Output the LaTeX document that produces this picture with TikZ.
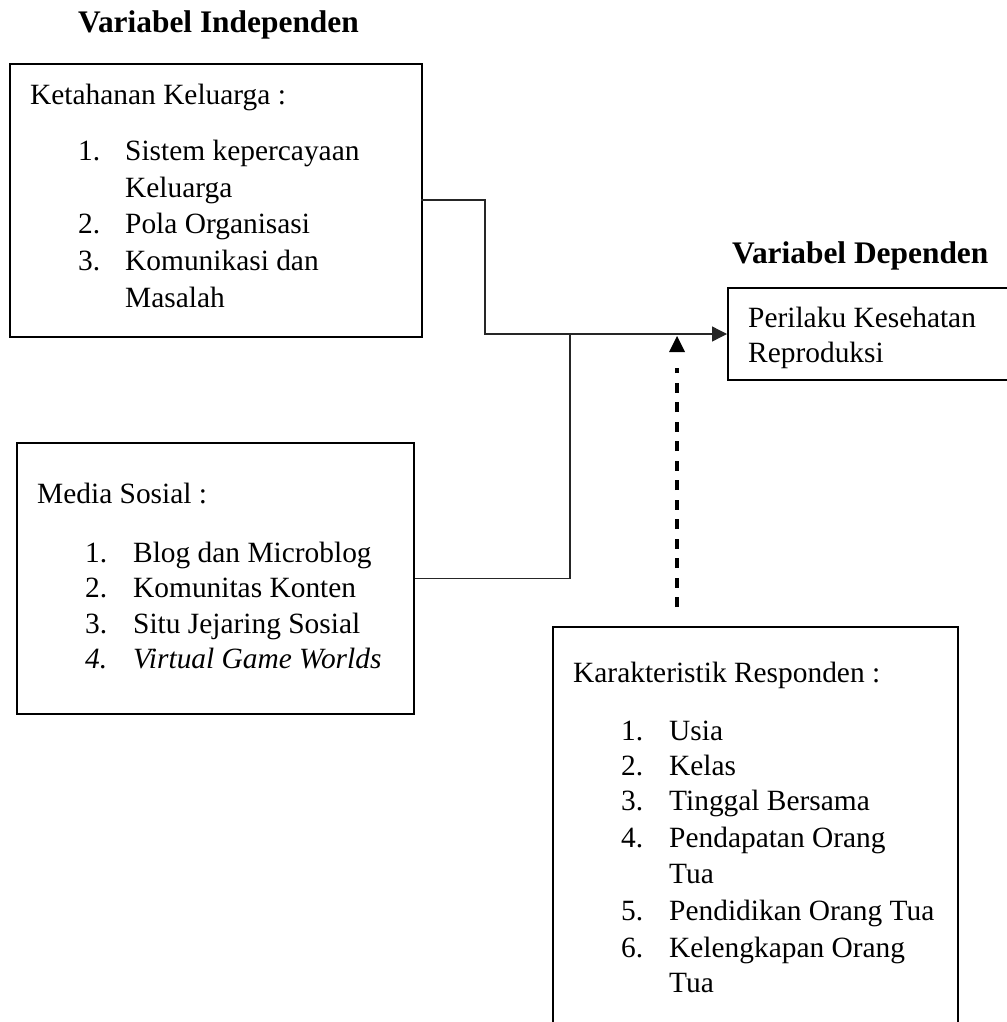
\documentclass[tikz,border=0pt]{standalone}
\usepackage{fontspec}
\setmainfont{Liberation Serif}
\usetikzlibrary{arrows.meta,calc}
\begin{document}
\begin{tikzpicture}[x=1pt,y=-1pt,
  box/.style={draw=black,line width=2pt,rectangle,anchor=north west,inner sep=0pt},
  txt/.style={anchor=base west,inner sep=0pt,font=\fontsize{29.4}{36}\selectfont},
  head/.style={anchor=base west,inner sep=0pt,font=\fontsize{31.4}{38}\selectfont\bfseries},
  conn/.style={draw=black!85,line width=1.3pt},
  dline/.style={draw=black,line width=3.3pt,dash pattern=on 10pt off 9.5pt}]
\useasboundingbox (0,0) rectangle (1006,1022);

% headings
\node[head] (hind) at (78,33) {Variabel Independen};
\node[head] (hdep) at (732,263) {Variabel Dependen};

% boxes
\node[box,minimum width=412pt,minimum height=273pt] (b1) at (9,63) {};
\node[box,minimum width=397pt,minimum height=271pt] (b2) at (16,442) {};
\node[box,minimum width=300pt,minimum height=92pt] (pk) at (727,287) {};
\node[box,minimum width=405pt,minimum height=420pt] (kr) at (552,626) {};

% box 1 text
\node[txt] (b1h) at (30,105) {Ketahanan Keluarga :};
\node[txt] (b1n1) at (78,160) {1.};
\node[txt] (b1t1) at (125,160) {Sistem kepercayaan};
\node[txt] (b1t1b) at (125,197) {Keluarga};
\node[txt] (b1n2) at (78,233) {2.};
\node[txt] (b1t2) at (125,233) {Pola Organisasi};
\node[txt] (b1n3) at (78,270) {3.};
\node[txt] (b1t3) at (125,270) {Komunikasi dan};
\node[txt] (b1t3b) at (125,307) {Masalah};

% box 2 text
\node[txt] (b2h) at (37,503) {Media Sosial :};
\node[txt] (b2n1) at (85,562) {1.};
\node[txt] (b2t1) at (133,562) {Blog dan Microblog};
\node[txt] (b2n2) at (85,597) {2.};
\node[txt] (b2t2) at (133,597) {Komunitas Konten};
\node[txt] (b2n3) at (85,633) {3.};
\node[txt] (b2t3) at (133,633) {Situ Jejaring Sosial};
\node[txt] (b2n4) at (85,668) {\itshape 4.};
\node[txt] (b2t4) at (133,668) {\itshape Virtual Game Worlds};

% dependent box text
\node[txt] (pkt1) at (748,327) {Perilaku Kesehatan};
\node[txt] (pkt2) at (748,362) {Reproduksi};

% karakteristik text
\node[txt] (krh) at (573,682) {Karakteristik Responden :};
\node[txt] (krn1) at (621,740) {1.};
\node[txt] (krt1) at (669,740) {Usia};
\node[txt] (krn2) at (621,775) {2.};
\node[txt] (krt2) at (669,775) {Kelas};
\node[txt] (krn3) at (621,810) {3.};
\node[txt] (krt3) at (669,810) {Tinggal Bersama};
\node[txt] (krn4) at (621,847) {4.};
\node[txt] (krt4) at (669,847) {Pendapatan Orang};
\node[txt] (krt4b) at (669,883) {Tua};
\node[txt] (krn5) at (621,920) {5.};
\node[txt] (krt5) at (669,920) {Pendidikan Orang Tua};
\node[txt] (krn6) at (621,957) {6.};
\node[txt] (krt6) at (669,957) {Kelengkapan Orang};
\node[txt] (krt6b) at (669,992) {Tua};

% connectors
\coordinate (e1) at (421,200);
\coordinate (k1) at (485,334);
\coordinate (j) at (570,334);
\coordinate (hit) at (677,336);
\draw[conn] (e1) -| (k1) -- (j);
\draw[conn,-{Triangle[length=15pt,width=15pt]}] (j) -- (pk.west);
\draw[conn] (b2.east) -| (j);
\draw[dline] (kr.north -| hit) ++(0,-19) -- ($(hit)+(0,32)$);
\fill[black] (hit) -- ++(8,16) -- ++(-16,0) -- cycle;
\end{tikzpicture}
\end{document}
